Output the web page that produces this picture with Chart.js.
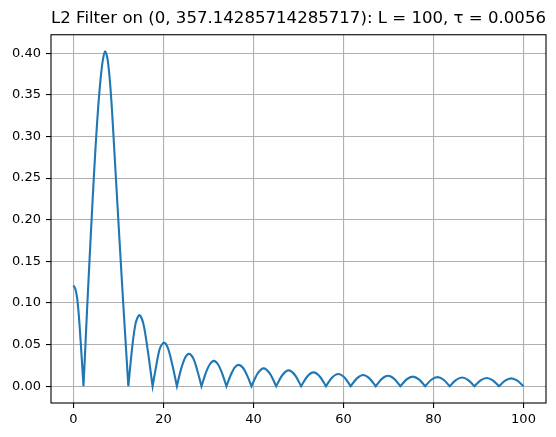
<!DOCTYPE html>
<html>
<head>
<meta charset="utf-8">
<script src="https://cdn.jsdelivr.net/npm/chart.js@4.4.0/dist/chart.umd.min.js"></script>
<style>
  html, body { margin: 0; padding: 0; background: #fff; }
  #wrap { width: 556px; height: 437px; }
</style>
</head>
<body>
<div id="wrap"><canvas id="myChart" width="556" height="437"></canvas></div>
<script>
// values; each cusp (zero) is listed twice so the arches meet sharply
var filterX = [
  0, 0.4, 0.8, 1.2, 1.6, 2.22, 2.22,
  2.5, 3, 3.5, 4, 4.5, 5, 5.5, 6, 6.5, 7, 7.5, 8, 8.5, 9, 9.5, 10, 10.5, 11, 11.5, 12.19, 12.19,
  13.0, 13.8, 14.65, 15.55, 16.5, 17.58, 17.58,
  18.45, 19.2, 20.1, 21.0, 21.95, 22.98, 22.98,
  23.85, 24.75, 25.65, 26.6, 27.5, 28.44, 28.44,
  29.35, 30.3, 31.2, 32.1, 33.05, 33.98, 33.98,
  34.9, 35.8, 36.7, 37.65, 38.6, 39.55, 39.55,
  40.9, 42.25, 43.65, 45.05, 45.05,
  46.43, 47.8, 49.2, 50.58, 50.58,
  51.96, 53.33, 54.72, 56.1, 56.1,
  57.47, 58.85, 60.22, 61.6, 61.6,
  62.98, 64.37, 65.76, 67.15, 67.15,
  68.52, 69.9, 71.27, 72.65, 72.65,
  74.02, 75.4, 76.77, 78.15, 78.15,
  79.51, 80.88, 82.24, 83.6, 83.6,
  84.97, 86.35, 87.72, 89.1, 89.1,
  90.46, 91.83, 93.19, 94.55, 94.55,
  95.91, 97.28, 98.64, 100
];
var filterY = [
  0.121, 0.117, 0.106, 0.084, 0.053, 0, 0,
  0.032, 0.090, 0.145, 0.198, 0.249, 0.296, 0.336, 0.368, 0.391, 0.402, 0.395, 0.372, 0.336, 0.290, 0.243, 0.196, 0.150, 0.104, 0.060, 0, 0,
  0.0445, 0.0755, 0.0855, 0.0745, 0.043, 0, 0,
  0.0265, 0.0455, 0.0524, 0.0455, 0.026, 0, 0,
  0.0197, 0.0337, 0.0389, 0.0336, 0.0193, 0, 0,
  0.0153, 0.0264, 0.0305, 0.0264, 0.0152, 0, 0,
  0.0129, 0.0223, 0.0257, 0.0222, 0.0128, 0, 0,
  0.0152, 0.0215, 0.0152, 0, 0,
  0.0135, 0.0191, 0.0135, 0, 0,
  0.0118, 0.0167, 0.0118, 0, 0,
  0.0105, 0.0148, 0.0105, 0, 0,
  0.0095, 0.0135, 0.0095, 0, 0,
  0.0089, 0.0126, 0.0089, 0, 0,
  0.0082, 0.0116, 0.0082, 0, 0,
  0.0078, 0.0110, 0.0078, 0, 0,
  0.0074, 0.0105, 0.0074, 0, 0,
  0.0071, 0.0100, 0.0071, 0, 0,
  0.0067, 0.0095, 0.0067, 0
];
var xTicks = [0, 20, 40, 60, 80, 100];
var yTicks = [0, 0.05, 0.10, 0.15, 0.20, 0.25, 0.30, 0.35, 0.40];
var titleText = "L2 Filter on (0, 357.14285714285717): L = 100, \u03c4 = 0.0056";

var FONT = "'DejaVu Sans', sans-serif";

// top/right spines like matplotlib
var framePlugin = {
  id: "frame",
  afterDraw: function (chart) {
    var a = chart.chartArea;
    var ctx = chart.ctx;
    ctx.save();
    ctx.strokeStyle = "#000";
    ctx.lineWidth = 1.1;
    ctx.strokeRect(a.left, a.top, a.right - a.left, a.bottom - a.top);
    ctx.restore();
  }
};

function chart() {
  var points = filterX.map(function (x, i) { return { x: x, y: filterY[i] }; });

  new Chart("myChart", {
    type: "line",
    data: {
      datasets: [{
        data: points,
        borderColor: "#1f77b4",
        borderWidth: 2.1,
        pointRadius: 0,
        tension: 0.3,
        fill: false
      }]
    },
    options: {
      responsive: false,
      animation: false,
      devicePixelRatio: 1,
      layout: { padding: { left: 0, right: 10, top: 0, bottom: 0 } },
      plugins: {
        legend: { display: false },
        tooltip: { enabled: false },
        title: {
          display: true,
          text: titleText,
          fullSize: false,
          color: "#000",
          font: { family: FONT, size: 16.7, weight: "normal", lineHeight: 1.2 },
          padding: { top: 9, bottom: 5.7 }
        }
      },
      scales: {
        x: {
          type: "linear",
          min: -5,
          max: 105,
          afterBuildTicks: function (s) { s.ticks = xTicks.map(function (v) { return { value: v }; }); },
          afterFit: function (s) { s.height = 34; },
          grid: { color: "#b0b0b0", lineWidth: 1.1, tickColor: "#000", tickLength: 5, tickWidth: 1.1 },
          border: { display: false },
          ticks: {
            color: "#000",
            font: { family: FONT, size: 13 },
            padding: 4,
            maxRotation: 0,
            callback: function (v) { return String(v); }
          }
        },
        y: {
          type: "linear",
          min: -0.0201,
          max: 0.4221,
          afterBuildTicks: function (s) { s.ticks = yTicks.map(function (v) { return { value: v }; }); },
          afterFit: function (s) { s.width = 51; },
          grid: { color: "#b0b0b0", lineWidth: 1.1, tickColor: "#000", tickLength: 5, tickWidth: 1.1 },
          border: { display: false },
          ticks: {
            color: "#000",
            font: { family: FONT, size: 13 },
            padding: 5,
            callback: function (v) { return v.toFixed(2); }
          }
        }
      }
    },
    plugins: [framePlugin]
  });
}

chart();
</script>
</body>
</html>
